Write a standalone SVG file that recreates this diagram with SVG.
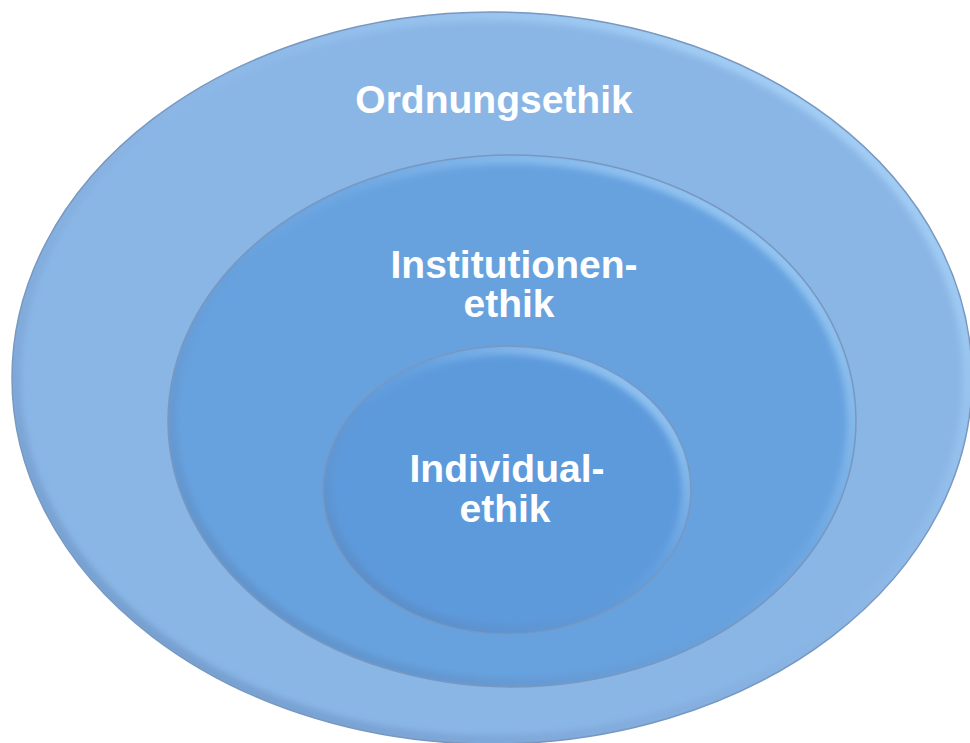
<svg xmlns="http://www.w3.org/2000/svg" width="970" height="743" viewBox="0 0 970 743">
  <style>
    .lbl { font-family: "Liberation Sans", Arial, sans-serif; font-weight: bold; font-size: 39px; fill: #ffffff; text-anchor: middle; }
    .edge { fill: none; stroke: #7898c0; stroke-width: 1.5; }
    .rim { fill: none; stroke: url(#rimGrad); stroke-width: 12; filter: url(#soft); }
  </style>
  <defs>
    <linearGradient id="rimGrad" x1="0" y1="1" x2="1" y2="0">
      <stop offset="0" stop-color="#4f76a8" stop-opacity="0.55"/>
      <stop offset="0.45" stop-color="#6f95c4" stop-opacity="0.12"/>
      <stop offset="0.6" stop-color="#b4dcff" stop-opacity="0.1"/>
      <stop offset="1" stop-color="#b4e0ff" stop-opacity="0.85"/>
    </linearGradient>
    <filter id="soft" x="-5%" y="-5%" width="110%" height="110%">
      <feGaussianBlur stdDeviation="3"/>
    </filter>
    <clipPath id="cOuter"><ellipse cx="492" cy="378" rx="480" ry="366"/></clipPath>
    <clipPath id="cMiddle"><ellipse cx="512" cy="421" rx="344" ry="266"/></clipPath>
    <clipPath id="cInner"><ellipse cx="507" cy="490" rx="184" ry="144"/></clipPath>
  </defs>
  <rect width="970" height="743" fill="#ffffff"/>

  <g id="ordnungsethik">
    <ellipse cx="492" cy="378" rx="480" ry="366" fill="#8ab6e6"/>
    <g clip-path="url(#cOuter)">
      <ellipse class="rim" cx="492" cy="378" rx="477" ry="363"/>
    </g>
    <ellipse class="edge" cx="492" cy="378" rx="480" ry="366"/>
    <text class="lbl" x="494" y="113">Ordnungsethik</text>
  </g>

  <g id="institutionenethik">
    <ellipse cx="512" cy="421" rx="344" ry="266" fill="#67a2df"/>
    <g clip-path="url(#cMiddle)">
      <ellipse class="rim" cx="512" cy="421" rx="341" ry="263"/>
    </g>
    <ellipse class="edge" cx="512" cy="421" rx="344" ry="266"/>
    <text class="lbl" x="514" y="278">Institutionen-</text>
    <text class="lbl" x="509" y="317">ethik</text>
  </g>

  <g id="individualethik">
    <ellipse cx="507" cy="490" rx="184" ry="144" fill="#5d9adc"/>
    <g clip-path="url(#cInner)">
      <ellipse class="rim" cx="507" cy="490" rx="181" ry="141"/>
    </g>
    <ellipse class="edge" cx="507" cy="490" rx="184" ry="144"/>
    <text class="lbl" x="507" y="482">Individual-</text>
    <text class="lbl" x="505" y="522">ethik</text>
  </g>
</svg>
